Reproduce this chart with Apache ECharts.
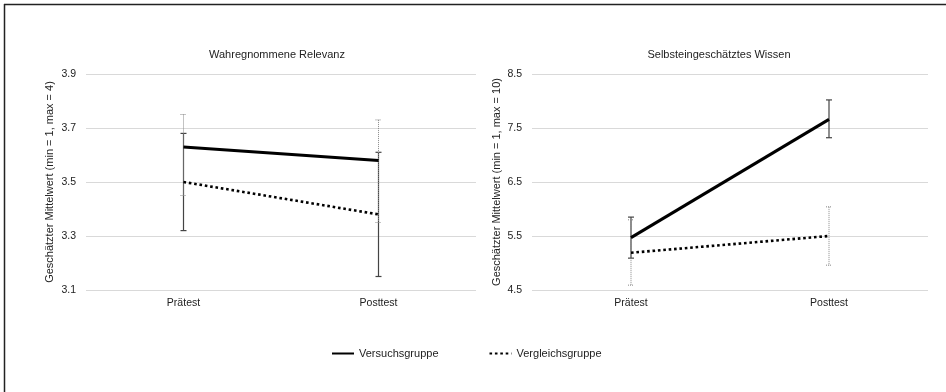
<!DOCTYPE html>
<html>
<head>
<meta charset="utf-8">
<script src="https://cdn.jsdelivr.net/npm/echarts@6/dist/echarts.min.js"></script>
<style>
html,body{margin:0;padding:0;background:#fff;}
#chart{width:946px;height:392px;}
</style>
</head>
<body>
<div id="chart"></div>
<script>
var categories = ['Prätest', 'Posttest'];
var seriesNames = ['Versuchsgruppe', 'Vergleichsgruppe'];
var titles = ['Wahregnommene Relevanz', 'Selbsteingeschätztes Wissen'];
var yNames = ['Geschätzter Mittelwert (min = 1, max = 4)', 'Geschätzter Mittelwert (min = 1, max = 10)'];

// Wahrgenommene Relevanz
var relVersuch = [3.63, 3.58];
var relVersuchLow = [3.32, 3.15];
var relVersuchHigh = [3.68, 3.61];
var relVergleich = [3.50, 3.38];
var relVergleichLow = [3.45, 3.35];
var relVergleichHigh = [3.75, 3.73];

// Selbsteingeschätztes Wissen
var wisVersuch = [5.47, 7.66];
var wisVersuchLow = [5.09, 7.32];
var wisVersuchHigh = [5.85, 8.02];
var wisVergleich = [5.19, 5.50];
var wisVergleichLow = [4.59, 4.96];
var wisVergleichHigh = [5.80, 6.04];

var yMin = [3.1, 4.5], yMax = [3.9, 8.5], yStep = [0.2, 1];

function errData(low, high) {
  return categories.map(function (c, i) { return [i, low[i], high[i]]; });
}

function errSeries(name, idx, low, high, color, dashed) {
  return {
    name: name,
    type: 'custom',
    xAxisIndex: idx,
    yAxisIndex: idx,
    silent: true,
    z: 1,
    data: errData(low, high),
    encode: { x: 0, y: [1, 2] },
    renderItem: function (params, api) {
      var x = api.value(0);
      var top = api.coord([x, api.value(2)]);
      var bot = api.coord([x, api.value(1)]);
      var cw = 3;
      var style = { stroke: color, lineWidth: dashed ? 1 : 1.2, lineDash: dashed ? [1, 1] : null };
      return {
        type: 'group',
        children: [
          { type: 'line', shape: { x1: top[0], y1: top[1], x2: bot[0], y2: bot[1] }, style: style },
          { type: 'line', shape: { x1: top[0] - cw, y1: top[1], x2: top[0] + cw, y2: top[1] }, style: style },
          { type: 'line', shape: { x1: bot[0] - cw, y1: bot[1], x2: bot[0] + cw, y2: bot[1] }, style: style }
        ]
      };
    }
  };
}

function lineSeries(name, idx, data, dotted) {
  return {
    name: name,
    type: 'line',
    xAxisIndex: idx,
    yAxisIndex: idx,
    data: data,
    symbol: 'none',
    z: 3,
    itemStyle: { color: '#000' },
    lineStyle: dotted ? { color: '#000', width: 2.6, type: [2.6, 2.8] } : { color: '#000', width: 3 }
  };
}

var textColor = '#222';
var fontFam = 'Liberation Sans, Arial, sans-serif';

var grids = [
  { left: 86, top: 74, width: 390, height: 216 },
  { left: 532, top: 74, width: 396, height: 216 }
];

var option = {
  backgroundColor: '#fff',
  animation: false,
  textStyle: { fontFamily: fontFam },
  title: [
    { text: titles[0], left: 272, top: 44, textAlign: 'center', textStyle: { fontSize: 11, fontWeight: 'normal', color: textColor, fontFamily: fontFam } },
    { text: titles[1], left: 714, top: 44, textAlign: 'center', textStyle: { fontSize: 11, fontWeight: 'normal', color: textColor, fontFamily: fontFam } }
  ],
  grid: grids,
  legend: {
    data: seriesNames,
    left: 326,
    top: 343,
    itemWidth: 22,
    itemHeight: 10,
    itemGap: 50,
    itemStyle: { opacity: 0 },
    textStyle: { fontSize: 11, color: textColor, fontFamily: fontFam }
  },
  graphic: [
    { type: 'line', shape: { x1: 4, y1: 4.5, x2: 946, y2: 4.5 }, style: { stroke: '#222', lineWidth: 1.5 } },
    { type: 'line', shape: { x1: 4.5, y1: 4, x2: 4.5, y2: 392 }, style: { stroke: '#222', lineWidth: 1.5 } }
  ],
  xAxis: [0, 1].map(function (i) {
    return {
      type: 'category',
      gridIndex: i,
      data: categories,
      boundaryGap: true,
      axisLine: { show: false },
      axisTick: { show: false },
      axisLabel: { fontSize: 10.5, color: textColor, margin: 8, fontFamily: fontFam }
    };
  }),
  yAxis: [0, 1].map(function (i) {
    return {
      type: 'value',
      gridIndex: i,
      min: yMin[i],
      max: yMax[i],
      interval: yStep[i],
      name: yNames[i],
      nameLocation: 'middle',
      nameGap: i === 0 ? 31 : 30,
      nameTextStyle: { fontSize: 11, color: textColor, fontFamily: fontFam },
      axisLine: { show: false },
      axisTick: { show: false },
      axisLabel: { fontSize: 10.5, color: textColor, margin: 10, fontFamily: fontFam, formatter: function (v) { return v.toFixed(1); } },
      splitLine: { lineStyle: { color: '#d9d9d9', width: 1.2 } }
    };
  }),
  series: [
    errSeries('errA0', 0, relVersuchLow, relVersuchHigh, '#444', false),
    errSeries('errB0', 0, relVergleichLow, relVergleichHigh, '#888', true),
    lineSeries(seriesNames[0], 0, relVersuch, false),
    lineSeries(seriesNames[1], 0, relVergleich, true),
    errSeries('errA1', 1, wisVersuchLow, wisVersuchHigh, '#444', false),
    errSeries('errB1', 1, wisVergleichLow, wisVergleichHigh, '#888', true),
    lineSeries(seriesNames[0], 1, wisVersuch, false),
    lineSeries(seriesNames[1], 1, wisVergleich, true)
  ]
};

var chart = echarts.init(document.getElementById('chart'), null, { renderer: 'canvas' });
chart.setOption(option);
</script>
</body>
</html>
